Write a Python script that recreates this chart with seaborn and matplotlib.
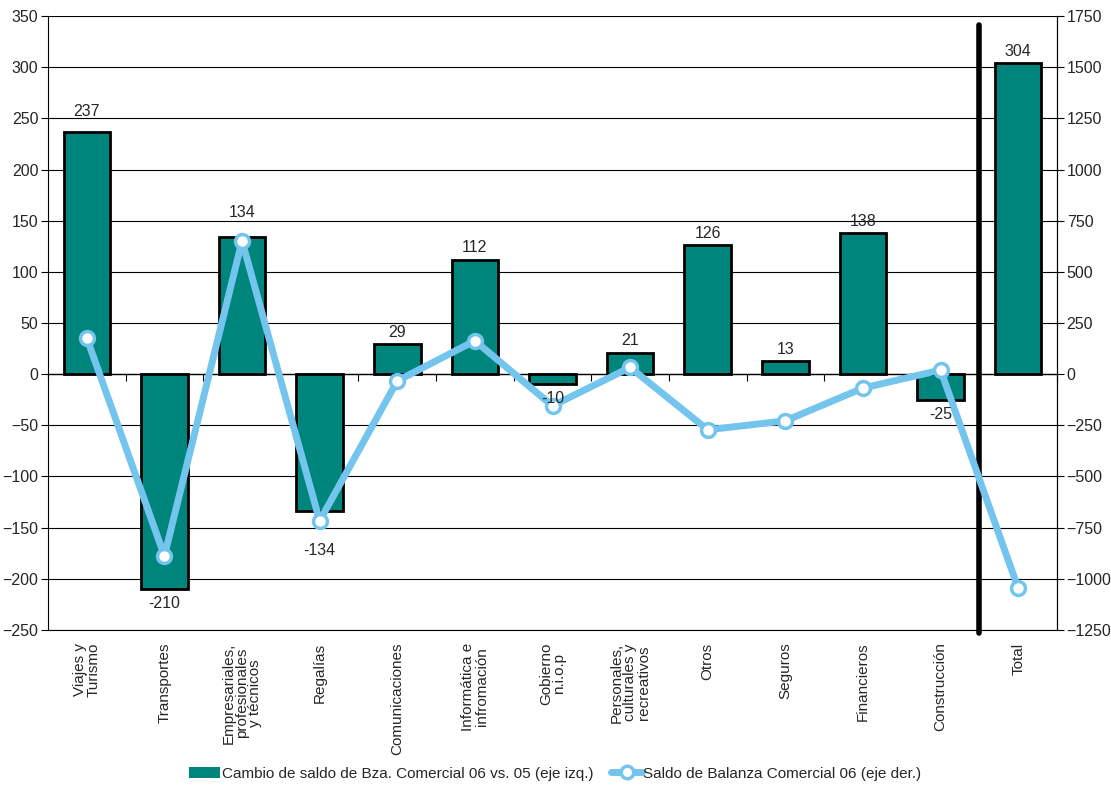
import numpy as np
import pandas as pd
import matplotlib
matplotlib.use("Agg")
import matplotlib.pyplot as plt
import seaborn as sns
from matplotlib.lines import Line2D
from matplotlib.patches import Patch

categories = ["Viajes y\nTurismo", "Transportes", "Empresariales,\nprofesionales\ny técnicos",
              "Regalías", "Comunicaciones", "Informática e\ninfromación", "Gobierno\nn.i.o.p",
              "Personales,\nculturales y\nrecreativos", "Otros", "Seguros", "Financieros",
              "Construcción", "Total"]
cambio = [237, -210, 134, -134, 29, 112, -10, 21, 126, 13, 138, -25, 304]
saldo = [176, -888, 651, -717, -33, 163, -155, 33, -272, -228, -68, 20, -1046]
left_ticks = list(range(-250, 351, 50))
right_ticks = list(range(-1250, 1751, 250))

bar_label = "Cambio de saldo de Bza. Comercial 06 vs. 05 (eje izq.)"
line_label = "Saldo de Balanza Comercial 06 (eje der.)"

sns.set_theme(style="white")
plt.rcParams['font.family'] = ['Liberation Sans', 'DejaVu Sans']

TEAL = "#00857D"
BLUE = "#74C5EE"

df = pd.DataFrame({"cat": categories, "cambio": cambio, "saldo": saldo})
df["pos"] = np.arange(len(df))

fig = plt.figure(figsize=(11.11, 7.85), dpi=100)
ax = fig.add_axes([0.0432, 0.1975, 0.9082, 0.7821])

sns.barplot(data=df, x="cat", y="cambio", color=TEAL, edgecolor="black",
            linewidth=2, width=0.6, saturation=1, ax=ax, zorder=3)
ax.set_xlim(-0.5, len(df) - 0.5)
ymin, ymax = -250, 350
ax.set_ylim(ymin, ymax)
ax.set_yticks(left_ticks)
ax.yaxis.grid(True, color="black", linewidth=0.8)
ax.set_axisbelow(True)
ax.set_xlabel("")
ax.set_ylabel("")
ax.tick_params(axis="y", which="both", left=True, length=5, width=0.8, color="black",
               labelsize=11.5, pad=2)
ax.tick_params(axis="x", bottom=False, labelsize=11, pad=3)
ax.set_xticks(df["pos"])
ax.set_xticklabels(categories, rotation=90, va="top", ha="center", multialignment="center",
                   linespacing=0.95)
for s in ["left", "right", "bottom"]:
    ax.spines[s].set_visible(True)
    ax.spines[s].set_color("black")
    ax.spines[s].set_linewidth(0.8)
ax.spines["top"].set_visible(False)

# small ticks on the zero line between categories
sec = ax.secondary_xaxis((0 - ymin) / (ymax - ymin))
sec.set_xticks(np.arange(-0.5, len(df), 1.0))
sec.set_xticklabels([])
sec.tick_params(direction="out", length=5, width=0.8, color="black")
sec.spines["bottom"].set_linewidth(1.0)

# separator before Total
ax.axvline(len(df) - 1.5, ymin=-0.005, ymax=0.985, color="black", lw=4, clip_on=False, zorder=5)

ax2 = ax.twinx()
sns.lineplot(data=df, x="pos", y="saldo", ax=ax2, color=BLUE, linewidth=5, marker="o",
             markersize=10, markerfacecolor="white", markeredgecolor=BLUE,
             markeredgewidth=2.5, zorder=4)
ax2.set_ylim(-1250, 1750)
ax2.set_yticks(right_ticks)
ax2.set_ylabel("")
ax2.set_xlabel("")
ax2.tick_params(axis="y", right=True, length=5, width=0.8, color="black", labelsize=11.5, pad=2)
for s in ["left", "top", "bottom"]:
    ax2.spines[s].set_visible(False)
ax2.spines["right"].set_visible(True)
ax2.spines["right"].set_color("black")
ax2.spines["right"].set_linewidth(0.8)
ax2.grid(False)
ax2.set_xlim(-0.5, len(df) - 0.5)

# value labels (drawn above the line)
extra = {0: 6, 2: 9, 3: -18}
for i, v in enumerate(cambio):
    off = 3 if v >= 0 else -5
    off += extra.get(i, 0)
    ax2.annotate(f"{v}", (i, v), xycoords=ax.transData, xytext=(0, off),
                 textcoords="offset points", ha="center",
                 va="bottom" if v >= 0 else "top", fontsize=11.5, zorder=6)

handles = [Patch(facecolor=TEAL, edgecolor="none", label=bar_label),
           Line2D([0], [0], color=BLUE, lw=5, marker="o", markersize=9,
                  markerfacecolor="white", markeredgecolor=BLUE, markeredgewidth=2.5,
                  label=line_label)]
fig.legend(handles=handles, loc="lower center", bbox_to_anchor=(0.5, -0.012), ncol=2,
           frameon=False, fontsize=11, handlelength=2.0, handletextpad=0.1, columnspacing=1.2)

fig.savefig("out.png", dpi=100)
